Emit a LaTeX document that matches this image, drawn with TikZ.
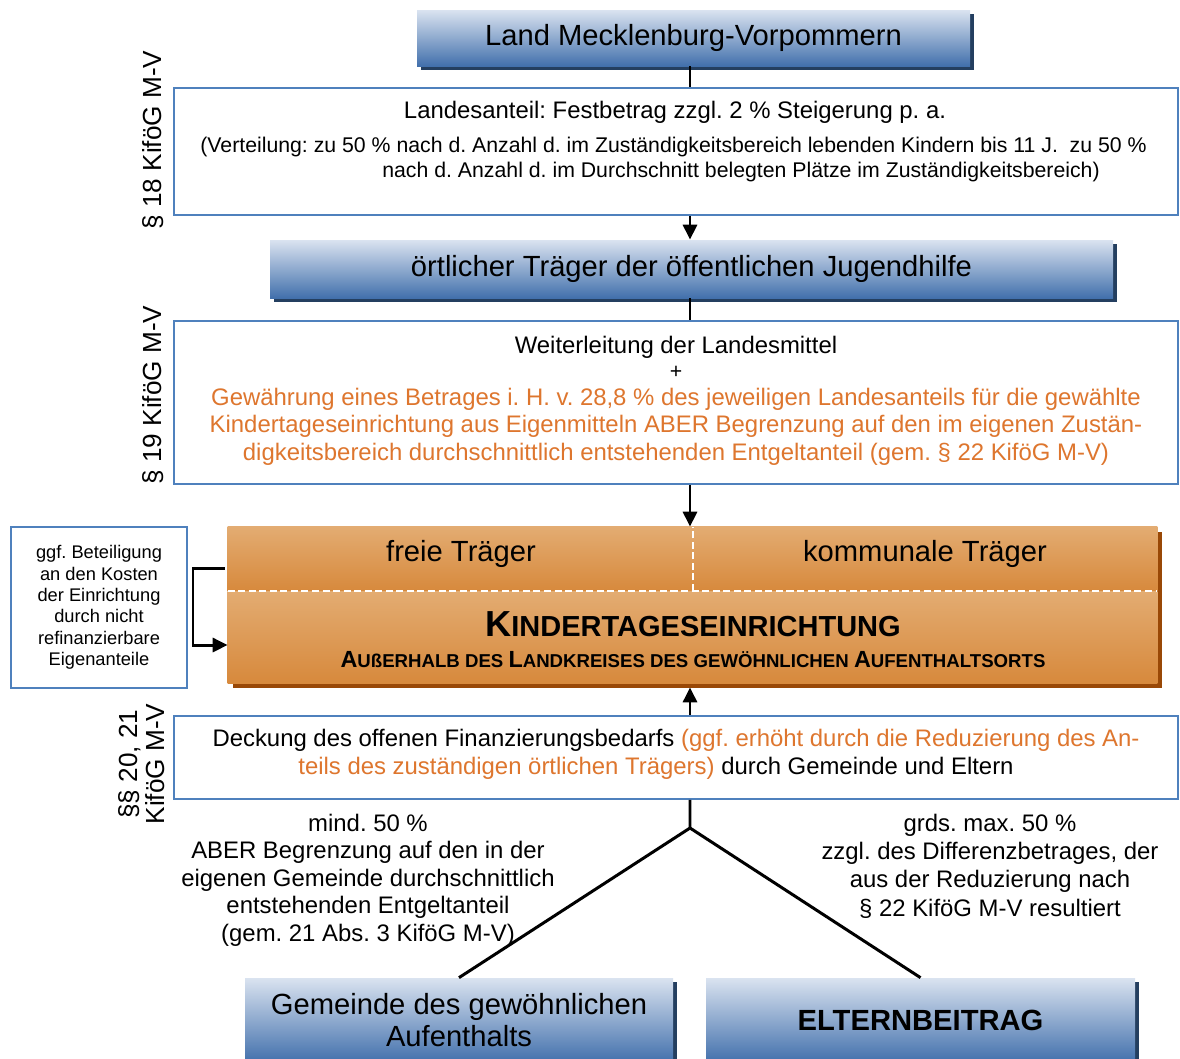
\documentclass[tikz,border=0pt]{standalone}
\usepackage{fontspec}
\setmainfont{Liberation Sans}
\usepackage{tikz}
\usetikzlibrary{arrows.meta,shadows}
\definecolor{barTop}{RGB}{218,227,240}
\definecolor{barBottom}{RGB}{66,112,172}
\definecolor{barShadow}{RGB}{36,63,96}
\definecolor{frameBlue}{RGB}{79,129,189}
\definecolor{kitaLight}{RGB}{227,172,114}
\definecolor{kitaDark}{RGB}{215,137,60}
\definecolor{kitaShadow}{RGB}{153,72,6}
\definecolor{noteOrange}{RGB}{222,118,46}
\newcommand{\fsTitle}{\fontsize{16.6}{18.7}\selectfont}
\newcommand{\fsBody}{\fontsize{13.6}{15.6}\selectfont}
\newcommand{\fsSmall}{\fontsize{12.1}{14.2}\selectfont}
\newcommand{\fsNote}{\fontsize{10.4}{12.2}\selectfont}
\newcommand{\capA}[1]{{\fontsize{13.3}{15}\selectfont #1}}
\newcommand{\capB}[1]{{\fontsize{10.6}{12}\selectfont #1}}
\frenchspacing

\begin{document}
\begin{tikzpicture}[
  bluebar/.style={top color=barTop, bottom color=barBottom, inner sep=0pt, font=\fsTitle,
    drop shadow={shadow xshift=0.07cm, shadow yshift=-0.07cm, fill=barShadow, opacity=1}},
  framebox/.style={draw=frameBlue, line width=1pt, fill=white, inner sep=0pt},
  conn/.style={line width=1.7pt},
  connarrow/.style={conn, -{Triangle[length=0.3cm,width=0.28cm]}},
  kitashade/.style={top color=kitaLight, bottom color=kitaDark},
  lawlabel/.style={rotate=90, align=center, font=\fontsize{14.9}{15.3}\selectfont}
]
\useasboundingbox (0,0) rectangle (23.6,-21.18);
\coordinate (axis) at (13.8,0);

\node[bluebar, minimum width=11.06cm, minimum height=1.12cm] (land) at (13.87,-0.76) {Land Mecklenburg-Vorpommern};
\node[framebox, minimum width=20.08cm, minimum height=2.54cm] (anteil) at (13.52,-3.03) {};
\node[font=\fsBody] (anteiltext) at (13.5,-2.24) {Landesanteil: Festbetrag zzgl. 2 \% Steigerung p. a.};
\node[font=\fsSmall, anchor=west, inner sep=0pt] (vert1) at (4.00,-2.94) {(Verteilung: zu 50 \% nach d. Anzahl d. im Zuständigkeitsbereich lebenden Kindern bis 11 J.\ \ zu 50 \%};
\node[font=\fsSmall, anchor=west, inner sep=0pt] (vert2) at (7.64,-3.44) {nach d. Anzahl d. im Durchschnitt belegten Plätze im Zuständigkeitsbereich)};

\node[bluebar, minimum width=16.86cm, minimum height=1.16cm] (traeger) at (13.83,-5.38) {örtlicher Träger der öffentlichen Jugendhilfe};
\node[framebox, minimum width=20.08cm, minimum height=3.26cm] (weiter) at (13.52,-8.05) {};
\node[font=\fsBody] (mittel) at (13.52,-6.94) {Weiterleitung der Landesmittel};
\node[font=\fsSmall] (plus) at (13.52,-7.44) {+};
\node[font=\fsBody, text=noteOrange, align=center] (gewaehr) at (13.52,-8.53) {Gewährung eines Betrages i. H. v. 28,8 \% des jeweiligen Landesanteils für die gewählte\\Kindertageseinrichtung aus Eigenmitteln ABER Begrenzung auf den im eigenen Zustän-\\digkeitsbereich durchschnittlich entstehenden Entgeltanteil (gem. § 22 KiföG M-V)};

\node[minimum width=18.58cm, minimum height=3.12cm, fill=kitaDark,
  drop shadow={shadow xshift=0.1cm, shadow yshift=-0.1cm, fill=kitaShadow, opacity=1}] (kita) at (13.85,-12.10) {};
\coordinate (split) at (13.86,-11.82);
\shade[kitashade] (kita.north west) rectangle (kita.east |- split);
\shade[kitashade] (kita.west |- split) rectangle (kita.south east);
\draw[white, line width=0.9pt, dash pattern=on 4pt off 2pt] (kita.west |- split) -- (kita.east |- split) (split) -- (split |- kita.north);
\node[font=\fsTitle] (frei) at (9.22,-11.08) {freie Träger};
\node[font=\fsTitle] (kommunal) at (18.50,-11.08) {kommunale Träger};
\node[font=\bfseries] (kitaname) at (13.86,-12.48) {{\fontsize{20.6}{24}\selectfont K}{\fontsize{16.5}{20}\selectfont INDERTAGESEINRICHTUNG}};
\node[font=\bfseries] (ausser) at (13.86,-13.20) {\capA{A}\capB{UßERHALB DES }\capA{L}\capB{ANDKREISES DES GEWÖHNLICHEN }\capA{A}\capB{UFENTHALTSORTS}};

\node[framebox, minimum width=3.52cm, minimum height=3.22cm, align=center, font=\fsNote] (eigen) at (1.98,-12.15) {ggf. Beteiligung\\an den Kosten\\der Einrichtung\\durch nicht\\refinanzierbare\\Eigenanteile};
\coordinate (elbowtop) at (3.86,-11.36);
\coordinate (elbowbot) at (3.86,-12.90);
\draw[connarrow] ([xshift=-0.06cm]kita.west |- elbowtop) -- (elbowtop) -- (elbowbot) -- (kita.west |- elbowbot);

\node[framebox, minimum width=20.08cm, minimum height=1.66cm] (deckung) at (13.52,-15.15) {};
\node[font=\fsBody] (deckA) at (13.52,-14.80) {Deckung des offenen Finanzierungsbedarfs \textcolor{noteOrange}{(ggf. erhöht durch die Reduzierung des An-}};
\node[font=\fsBody] (deckB) at (13.12,-15.36) {\textcolor{noteOrange}{teils des zuständigen örtlichen Trägers)} durch Gemeinde und Eltern};

\node[lawlabel] (par18) at (3.06,-2.80) {§ 18 KiföG M-V};
\node[lawlabel] (par19) at (3.06,-7.90) {§ 19 KiföG M-V};
\node[lawlabel] (par20) at (2.83,-15.28) {§§ 20, 21\\KiföG M-V};

\node[bluebar, minimum width=8.56cm, minimum height=1.68cm, align=center] (gemeinde) at (9.18,-20.40) {Gemeinde des gewöhnlichen\\Aufenthalts};
\node[bluebar, minimum width=8.58cm, minimum height=1.68cm, font={\fsTitle\bfseries}] (eltern) at (18.41,-20.40) {ELTERNBEITRAG};

\foreach \y/\label [count=\n] in {-16.46/{mind. 50 \%},-17.04/{ABER Begrenzung auf den in der},-17.60/{eigenen Gemeinde durchschnittlich},-18.14/{entstehenden Entgeltanteil},-18.70/{(gem. 21 Abs. 3 KiföG M-V)}}
  \node[font=\fsBody] (mind\n) at (7.36,\y) {\label};
\foreach \y/\label [count=\n] in {-16.50/{grds. max. 50 \%},-17.06/{zzgl. des Differenzbetrages, der},-17.62/{aus der Reduzierung nach},-18.18/{§ 22 KiföG M-V resultiert}}
  \node[font=\fsBody] (max\n) at (19.80,\y) {\label};

\draw[conn] (land.south -| axis) -- (anteil.north -| axis);
\draw[connarrow] (anteil.south -| axis) -- (traeger.north -| axis);
\draw[conn] (traeger.south -| axis) -- (weiter.north -| axis);
\draw[connarrow] (weiter.south -| axis) -- (kita.north -| axis);
\draw[connarrow] (deckung.north -| axis) -- ([yshift=-0.08cm]kita.south -| axis);
\coordinate (fork) at (13.8,-16.56);
\draw[conn] (deckung.south -| axis) -- (fork) -- (gemeinde.north);
\draw[conn] (fork) -- (eltern.north);
\end{tikzpicture}
\end{document}
